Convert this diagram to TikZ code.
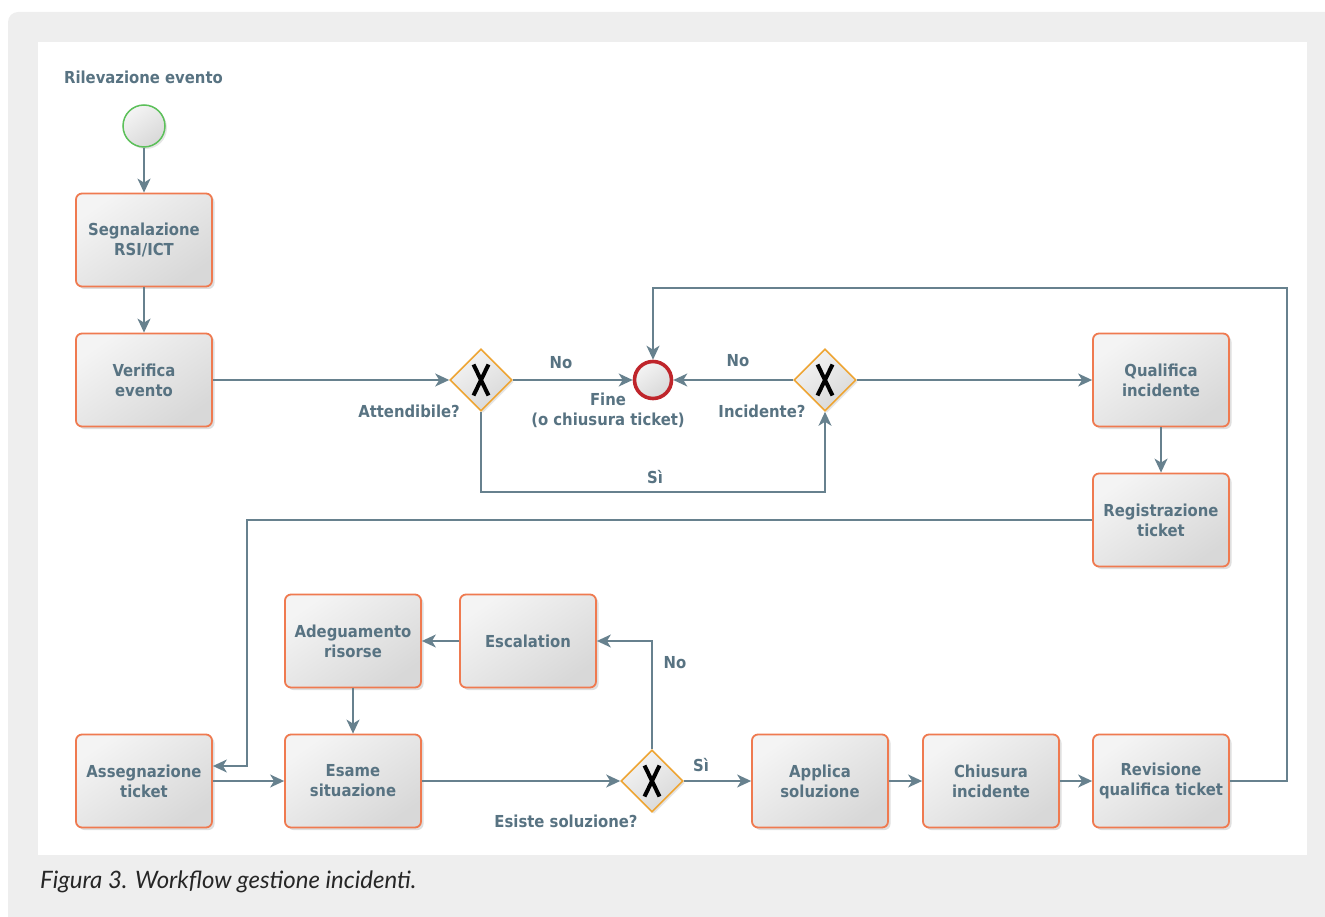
\documentclass[tikz,border=0pt]{standalone}
\usepackage{fontspec}
\setmainfont{DejaVu Sans Condensed}
\newfontfamily\capfont{Lato}
\usetikzlibrary{arrows.meta,shapes.geometric,shadows}

\definecolor{frame}{HTML}{EEEEEE}
\definecolor{txt}{HTML}{587382}
\definecolor{wire}{HTML}{67818E}
\definecolor{taskedge}{HTML}{EF7A50}
\definecolor{gateedge}{HTML}{EEA534}
\definecolor{startedge}{HTML}{5CC05A}
\definecolor{endedge}{HTML}{BF252B}
\definecolor{fillhi}{HTML}{F4F4F4}
\definecolor{filllo}{HTML}{D8D8D8}

\tikzset{
  every node/.style={text=txt, font=\bfseries\fontsize{16.5}{20}\selectfont},
  shade/.style={top color=fillhi, bottom color=filllo, shading angle=35},
  task/.style={shade, draw=taskedge, line width=1.8pt, rounded corners=6pt,
    minimum width=136pt, minimum height=93pt, align=center, inner sep=2pt,
    drop shadow={opacity=0.25, shadow xshift=2.5pt, shadow yshift=-2.5pt}},
  gate/.style={shade, diamond, draw=gateedge, line width=1.6pt, aspect=1,
    minimum width=62pt, minimum height=62pt, inner sep=0pt,
    drop shadow={opacity=0.2, shadow xshift=2pt, shadow yshift=-2pt},
    path picture={
      \draw[black, line width=4pt]
        ([xshift=-7.5pt,yshift=15.5pt]path picture bounding box.center) --
        ([xshift=7.5pt,yshift=-15.5pt]path picture bounding box.center);
      \draw[black, line width=4pt]
        ([xshift=7.5pt,yshift=15.5pt]path picture bounding box.center) --
        ([xshift=-7.5pt,yshift=-15.5pt]path picture bounding box.center);}},
  startev/.style={shade, circle, draw=startedge, line width=1.5pt,
    minimum size=42pt, inner sep=0pt,
    drop shadow={opacity=0.2, shadow xshift=2pt, shadow yshift=-2pt}},
  endev/.style={shade, circle, draw=endedge, line width=3.6pt,
    minimum size=37pt, inner sep=0pt},
  lbl/.style={inner sep=0pt, align=center},
  flow/.style={draw=wire, line width=1.5pt,
    -{Stealth[length=14pt, width=13pt, inset=4pt]}},
}

\begin{document}
\begin{tikzpicture}[x=1pt, y=-1pt]
  \useasboundingbox (0,0) rectangle (1325,917);
  % page frame and white panel
  \fill[frame, rounded corners=10pt] (8,12) rectangle (1345,940);
  \fill[white] (38,42) rectangle (1307,855);

  % events
  \node[lbl] (title) at (143.5,77) {Rilevazione evento};
  \node[startev] (start) at (144,126) {};
  \node[endev] (fine) at (653,380) {};

  % tasks
  \node[task] (seg) at (144,240) {Segnalazione\\RSI/ICT};
  \node[task] (ver) at (144,380) {Verifica\\evento};
  \node[task] (qual) at (1161,380) {Qualifica\\incidente};
  \node[task] (reg) at (1161,520) {Registrazione\\ticket};
  \node[task] (ade) at (353,641) {Adeguamento\\risorse};
  \node[task] (esc) at (528,641) {Escalation};
  \node[task] (ass) at (144,781) {Assegnazione\\ticket};
  \node[task] (esa) at (353,781) {Esame\\situazione};
  \node[task] (app) at (820,781) {Applica\\soluzione};
  \node[task] (chi) at (991,781) {Chiusura\\incidente};
  \node[task] (rev) at (1161,781) {Revisione\\qualifica ticket};

  % gateways
  \node[gate] (g1) at (481,380) {};
  \node[gate] (g2) at (825,380) {};
  \node[gate] (g3) at (652,781) {};

  % labels
  \node[lbl, anchor=east] (q1) at (460,411) {Attendibile?};
  \node[lbl] (q2) at (762,411) {Incidente?};
  \node[lbl] (q3) at (566,821) {Esiste soluzione?};
  \node[lbl] (finelbl) at (608,410) {Fine\\(o chiusura ticket)};
  \node[lbl] (no1) at (561,363) {No};
  \node[lbl] (no2) at (738,361) {No};
  \node[lbl] (si1) at (655,477) {Sì};
  \node[lbl] (no3) at (675,663) {No};
  \node[lbl] (si2) at (701,765) {Sì};

  % routing points
  \coordinate (bend) at (247,766);
  \coordinate (top) at (1287,288);

  % connectors
  \draw[flow] (start) -- (seg);
  \draw[flow] (seg) -- (ver);
  \draw[flow] (ver) -- (g1);
  \draw[flow] (g1) -- (fine);
  \draw[flow] (g2) -- (fine);
  \draw[flow] (g2) -- (qual);
  \draw[flow] (g1.south) -- ++(0,80) -| (g2.south);
  \draw[flow] (qual) -- (reg);
  \draw[flow] (reg.west) -| (bend) -- ([yshift=15pt]ass.east);
  \draw[flow] (ass) -- (esa);
  \draw[flow] (esa) -- (g3);
  \draw[flow] (g3.north) |- (esc.east);
  \draw[flow] (esc) -- (ade);
  \draw[flow] (ade) -- (esa);
  \draw[flow] (g3) -- (app);
  \draw[flow] (app) -- (chi);
  \draw[flow] (chi) -- (rev);
  \draw[flow] (rev.east) -| (top) -| (fine.north);

  % caption
  \node[anchor=base west, inner sep=0pt, text=black!85,
        font=\capfont\itshape\fontsize{24}{28}\selectfont] (cap) at (40,888)
        {Figura 3. Workflow gestione incidenti.};
\end{tikzpicture}
\end{document}
